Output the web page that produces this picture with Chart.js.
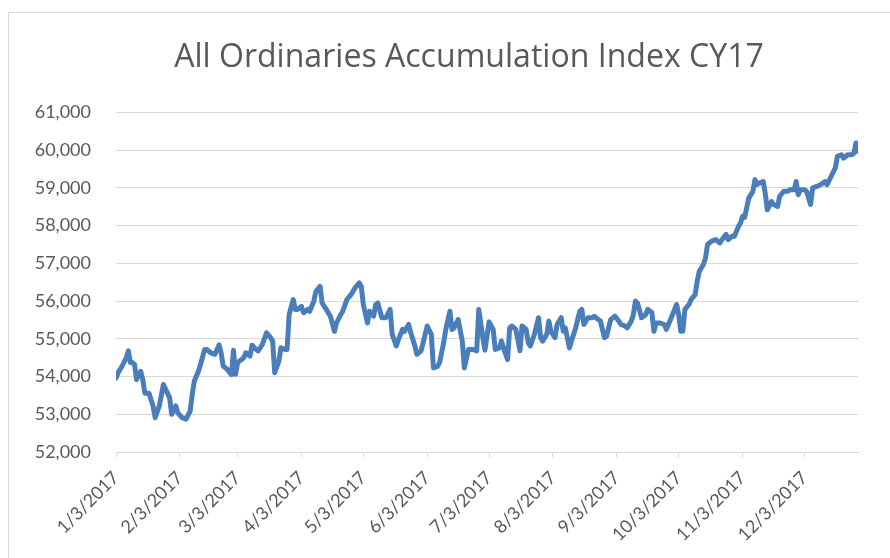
<!DOCTYPE html>
<html><head><meta charset="utf-8">
<script src="https://cdn.jsdelivr.net/npm/chart.js@4.4.0/dist/chart.umd.min.js"></script>
<style>
html,body{margin:0;padding:0;background:#fff;overflow:hidden;width:890px;height:558px;}
#box{position:absolute;left:8px;top:12px;width:920px;height:560px;border:1px solid #d9d9d9;}
#wrap{position:absolute;left:0;top:0;width:920px;height:545px;}
</style></head><body>
<div id="box"><div id="wrap"><canvas id="c"></canvas></div></div>
<script>
const chartTitle = 'All Ordinaries Accumulation Index CY17';
// day offsets from 1/3/2017
const days = [0,1,3,5,6,7,8,9,10,11,12,13,14,16,18,19,21,23,26,27,29,30,32,34,36,37,38,40,41,43,44,46,48,50,51,52,54,56,57,58,59,
62,63,65,66,68,69,71,73,75,76,77,79,80,82,83,84,86,87,88,90,91,93,94,96,97,99,100,102,104,106,107,109,110,112,114,116,118,119,
120,122,123,125,126,127,129,131,133,134,136,137,139,140,142,143,145,146,148,149,151,153,154,156,157,159,160,162,163,164,166,168,169,171,173,175,176,178,179,
181,183,184,186,187,188,190,191,192,194,196,197,199,200,201,203,205,206,207,209,210,211,213,214,216,217,218,220,221,223,225,226,227,229,231,232,234,235,237,238,240,
242,244,245,247,248,250,251,252,253,255,257,258,260,261,262,264,266,267,268,270,272,273,274,275,276,278,279,281,282,283,285,286,287,289,291,293,294,296,297,299,300,302,303,
304,305,307,309,310,311,312,314,315,316,318,319,321,322,324,326,327,329,330,331,332,334,335,337,338,340,342,344,345,347,349,350,352,353,355,357,358,359,360];
const values = [53960,54100,54280,54500,54680,54370,54370,54320,53920,54050,54140,53920,53560,53560,53220,52910,53220,53790,53440,53000,53220,53040,52910,52870,53090,53530,53880,54140,54320,54720,54720,54630,54590,54840,54630,54280,54190,54050,54700,54060,54370,
54500,54630,54540,54830,54720,54680,54850,55160,55030,54940,54100,54410,54760,54720,54720,55640,56040,55780,55780,55860,55690,55780,55730,56000,56260,56390,55950,55780,55600,55200,55420,55640,55730,56040,56170,56350,56480,56390,
55910,55420,55730,55600,55910,55950,55560,55560,55780,55120,54810,54980,55250,55200,55380,55160,54810,54590,54680,54900,55340,55120,54230,54270,54370,54900,55250,55730,55250,55290,55510,54940,54230,54720,54720,54680,55780,55030,54700,
55450,55250,54720,54760,54940,54760,54450,55290,55340,55250,54680,55340,55250,54900,54810,55120,55560,55030,54940,55120,55470,55200,55030,55380,55560,55200,55290,54760,54940,55290,55730,55780,55380,55560,55560,55600,55510,55470,55030,55070,55510,
55600,55470,55380,55340,55290,55470,55640,56000,55950,55560,55640,55780,55690,55200,55420,55420,55380,55250,55380,55640,55910,55640,55200,55200,55780,55910,56040,56170,56530,56790,56970,57140,57500,57590,57630,57540,57630,57770,57630,57720,57720,57980,58070,
58250,58220,58730,58910,59220,59090,59130,59170,58860,58420,58640,58560,58510,58780,58910,58910,58950,58950,59170,58820,58950,58950,58910,58560,59000,59040,59090,59170,59090,59310,59530,59840,59880,59790,59880,59880,59920,60190,59970];
const tickDays = [0,31,59,90,120,151,181,212,243,273,304,334];
const tickLabels = ['1/3/2017','2/3/2017','3/3/2017','4/3/2017','5/3/2017','6/3/2017','7/3/2017','8/3/2017','9/3/2017','10/3/2017','11/3/2017','12/3/2017'];
const yMin = 52000, yMax = 61000, yStep = 1000;
const xMin = 0, xMax = 360;

const points = days.map((d, i) => ({x: d, y: values[i]}));
const textColor = '#595959';
const gridColor = '#d9d9d9';

// fit title font size to the reference title width (~590px)
const mctx = document.createElement('canvas').getContext('2d');
let titleSize = 30;
mctx.font = titleSize + 'px "Open Sans"';
const w = mctx.measureText(chartTitle).width;
if (w > 0) titleSize = Math.max(26, Math.min(34, titleSize * 590 / w));

new Chart(document.getElementById('c'), {
  type: 'line',
  data: { datasets: [{
    data: points, borderColor: '#4A7EBB', borderWidth: 5, pointRadius: 0,
    tension: 0, fill: false, borderJoinStyle: 'round', borderCapStyle: 'round'
  }]},
  options: {
    responsive: true, maintainAspectRatio: false, animation: false,
    layout: { padding: 0 },
    plugins: {
      legend: { display: false }, tooltip: { enabled: false },
      title: { display: true, text: chartTitle, color: textColor,
        font: { family: 'Open Sans', size: titleSize, weight: 'normal' },
        padding: { top: 26, bottom: 35 } }
    },
    scales: {
      x: {
        type: 'linear', min: xMin, max: xMax,
        afterBuildTicks: (a) => { a.ticks = tickDays.map(v => ({ value: v })); },
        afterFit: (s) => { s.height = 106; },
        ticks: { autoSkip: false, maxRotation: 45, minRotation: 45, color: textColor,
          font: { family: 'Lato', size: 18 }, padding: 10,
          callback: (v, i) => tickLabels[i] },
        grid: { display: true, drawOnChartArea: false, drawTicks: true, tickLength: 5, color: gridColor },
        border: { display: true, color: gridColor, width: 1 }
      },
      y: {
        min: yMin, max: yMax,
        afterFit: (s) => { s.width = 107; },
        ticks: { stepSize: yStep, color: textColor, font: { family: 'Lato', size: 18 }, padding: 25,
          callback: (v) => v.toLocaleString('en-US') },
        grid: { color: gridColor, drawTicks: false },
        border: { display: false }
      },
      yRight: {
        position: 'right', min: yMin, max: yMax,
        afterFit: (s) => { s.width = 71; },
        ticks: { display: false },
        grid: { display: false, drawTicks: false },
        border: { display: false }
      }
    }
  }
});
</script>
</body></html>
